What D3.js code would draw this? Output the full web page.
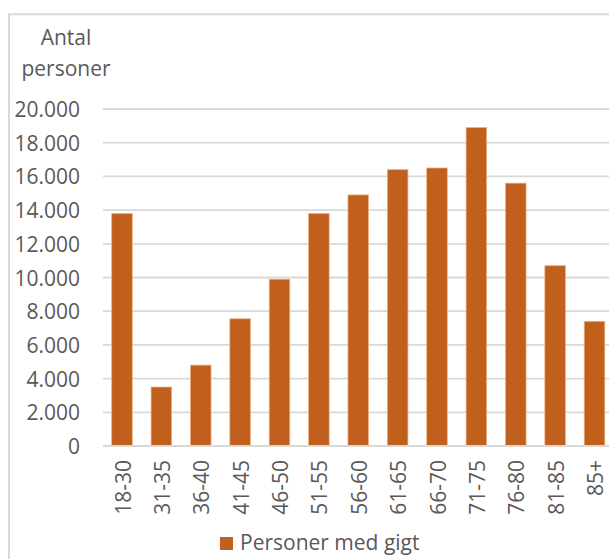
<!DOCTYPE html>
<html><head><meta charset="utf-8">
<script src="https://cdn.jsdelivr.net/npm/d3@7"></script>
<style>body{margin:0;background:#fff;} svg{display:block;}</style>
</head><body>
<script>
const categories = ["18-30","31-35","36-40","41-45","46-50","51-55","56-60","61-65","66-70","71-75","76-80","81-85","85+"];
const values = [13800,3500,4800,7550,9900,13800,14900,16400,16500,18900,15600,10700,7400];
const yTicks = [0,2000,4000,6000,8000,10000,12000,14000,16000,18000,20000];
const seriesName = "Personer med gigt";
const yTitle = ["Antal","personer"];

const W = 609, H = 559;
const font = "'Open Sans', 'Noto Sans', sans-serif";
const fs = 21;
const textColor = "#595959";
const barColor = "#C0601C";

const svg = d3.select("body").append("svg").attr("width", W).attr("height", H);
svg.append("rect").attr("x",9).attr("y",14.3).attr("width",640).attr("height",600)
  .attr("fill","#fff").attr("stroke","#D9D9D9").attr("stroke-width",2);

const x = d3.scaleBand().domain(categories).range([102.3, 614.2]).paddingInner(0.477).paddingOuter(0.2385);
const y = d3.scaleLinear().domain([0,20000]).range([446, 109]);

const grid = svg.append("g");
grid.selectAll("line").data(yTicks.filter(d=>d>0)).join("line")
  .attr("x1",103).attr("x2",W).attr("y1",d=>y(d)).attr("y2",d=>y(d))
  .attr("stroke","#D9D9D9").attr("stroke-width",1.8);

svg.append("g").selectAll("rect").data(values).join("rect")
  .attr("x",(d,i)=>x(categories[i])).attr("width",x.bandwidth())
  .attr("y",d=>y(d)).attr("height",d=>y(0)-y(d))
  .attr("fill",barColor).attr("stroke","#F4B183").attr("stroke-width",0.75);

svg.append("line").attr("x1",103).attr("x2",W).attr("y1",y(0)).attr("y2",y(0))
  .attr("stroke","#D9D9D9").attr("stroke-width",1.8);

const fmt = d3.formatLocale({decimal:",",thousands:".",grouping:[3],currency:["","kr"]}).format(",");
const yAxis = d3.axisLeft(y).tickValues(yTicks).tickFormat(fmt).tickSize(0).tickPadding(0);
const ga = svg.append("g").attr("transform","translate(80,0)").call(yAxis);
ga.select(".domain").remove();
ga.selectAll("text").attr("font-family",font).attr("font-size",fs).attr("fill",textColor).attr("dy","0.36em");

const xAxis = d3.axisBottom(x).tickSize(0).tickPadding(0);
const gx = svg.append("g").attr("transform",`translate(1,${y(0)})`).call(xAxis);
gx.select(".domain").remove();
gx.selectAll("text").attr("font-family",font).attr("font-size",fs).attr("fill",textColor)
  .attr("transform","rotate(-90)").attr("text-anchor","end")
  .attr("x",-14).attr("y",0).attr("dy","0.36em");

svg.append("text").attr("font-family",font).attr("font-size",fs).attr("fill",textColor)
  .attr("text-anchor","middle")
  .selectAll("tspan").data(yTitle).join("tspan")
  .attr("x",66).attr("y",(d,i)=>45+i*31).text(d=>d);

const lg = svg.append("g");
lg.append("rect").attr("x",220).attr("y",537).attr("width",13).attr("height",13).attr("fill",barColor);
lg.append("text").attr("x",240).attr("y",550).attr("font-family",font).attr("font-size",fs)
  .attr("fill",textColor).text(seriesName);
</script>
</body></html>
